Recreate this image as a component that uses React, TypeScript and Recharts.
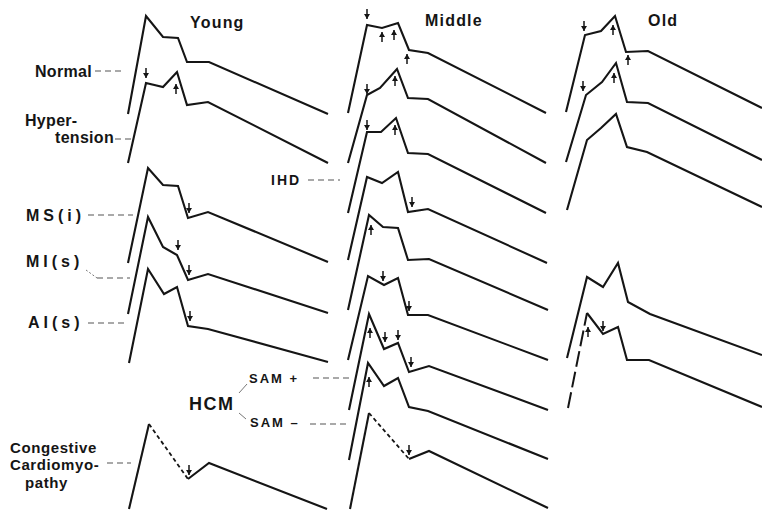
import { ComposedChart, Line, Scatter, XAxis, YAxis } from "recharts";

type P = [number, number];
const pts = (a: P[]) => a.map(([x, y]) => ({ x, y }));

// Young column
const youngNormal: P[] = [[128, 114], [146, 16], [163, 37], [178, 38], [187, 62], [209, 62], [328, 114]];
const youngHyper: P[] = [[128, 163], [146, 83], [163, 87], [177, 72], [187, 105], [208, 102], [328, 163]];
const youngMS: P[] = [[128, 263], [148, 168], [163, 185], [178, 186], [188, 218], [208, 212], [328, 262]];
const youngMI: P[] = [[128, 314], [148, 217], [163, 247], [177, 255], [188, 280], [208, 274], [328, 313]];
const youngAI: P[] = [[129, 363], [148, 269], [164, 294], [177, 287], [188, 326], [208, 329], [328, 362]];
const youngCCMRise: P[] = [[129, 509], [149, 424]];
const youngCCMDash: P[] = [[149, 424], [188, 479]];
const youngCCMTail: P[] = [[188, 479], [209, 463], [327, 509]];

// Middle column
const mid1: P[] = [[348, 113], [367, 25], [382, 28], [398, 23], [409, 50], [428, 53], [546, 113]];
const mid2: P[] = [[348, 163], [367, 95], [380, 88], [397, 69], [408, 98], [428, 99], [546, 163]];
const mid3: P[] = [[348, 213], [367, 132], [381, 132], [396, 118], [408, 153], [428, 154], [546, 213]];
const mid4: P[] = [[348, 260], [367, 177], [382, 183], [398, 172], [408, 212], [428, 209], [547, 263]];
const mid5: P[] = [[348, 310], [369, 215], [383, 227], [398, 228], [408, 260], [429, 259], [548, 310]];
const mid6: P[] = [[348, 360], [368, 276], [384, 285], [398, 278], [408, 315], [428, 315], [548, 360]];
const mid7: P[] = [[349, 410], [369, 314], [384, 349], [398, 343], [409, 372], [429, 366], [548, 410]];
const mid8: P[] = [[349, 460], [368, 363], [384, 386], [398, 378], [409, 407], [428, 411], [548, 459]];
const mid9Rise: P[] = [[350, 509], [369, 413]];
const mid9Dash: P[] = [[369, 413], [409, 459]];
const mid9Tail: P[] = [[409, 459], [429, 451], [548, 508]];

// Old column
const old1: P[] = [[566, 112], [585, 35], [601, 31], [615, 16], [626, 52], [648, 51], [762, 108]];
const old2: P[] = [[566, 162], [586, 95], [602, 82], [616, 63], [627, 102], [648, 103], [762, 160]];
const old3: P[] = [[567, 210], [587, 140], [601, 128], [616, 114], [627, 147], [647, 152], [762, 207]];
const old4: P[] = [[567, 358], [587, 277], [603, 287], [618, 263], [628, 302], [650, 314], [762, 355]];
const old5Rise: P[] = [[568, 408], [587, 313]];
const old5: P[] = [[587, 313], [603, 334], [618, 327], [627, 360], [649, 360], [762, 407]];

const solidTraces = [
    youngNormal, youngHyper, youngMS, youngMI, youngAI, youngCCMRise, youngCCMTail,
    mid1, mid2, mid3, mid4, mid5, mid6, mid7, mid8, mid9Rise, mid9Tail,
    old1, old2, old3, old4, old5,
];
const dottedTraces = [youngCCMDash, mid9Dash];

// arrows: x, y, direction (1 = down, -1 = up)
const arrows = [
    { x: 146, y: 73, d: 1 }, { x: 176, y: 89, d: -1 },
    { x: 189, y: 208, d: 1 }, { x: 178, y: 245, d: 1 }, { x: 189, y: 270, d: 1 },
    { x: 190, y: 316, d: 1 }, { x: 189, y: 470, d: 1 },
    { x: 367, y: 14, d: 1 }, { x: 382, y: 37, d: -1 }, { x: 394, y: 35, d: -1 }, { x: 407, y: 59, d: -1 },
    { x: 367, y: 89, d: 1 }, { x: 395, y: 81, d: -1 },
    { x: 367, y: 125, d: 1 }, { x: 395, y: 130, d: -1 },
    { x: 412, y: 202, d: 1 }, { x: 371, y: 230, d: -1 },
    { x: 383, y: 276, d: 1 }, { x: 409, y: 306, d: 1 },
    { x: 370, y: 333, d: -1 }, { x: 385, y: 337, d: 1 }, { x: 398, y: 335, d: 1 }, { x: 411, y: 362, d: 1 },
    { x: 369, y: 382, d: -1 }, { x: 409, y: 450, d: 1 },
    { x: 584, y: 26, d: 1 }, { x: 613, y: 30, d: -1 }, { x: 628, y: 60, d: -1 },
    { x: 583, y: 86, d: 1 }, { x: 614, y: 78, d: -1 },
    { x: 588, y: 332, d: -1 }, { x: 603, y: 326, d: 1 },
];

// label leaders
const leaders: P[][] = [
    [[95, 71], [121, 71]],
    [[115, 139], [131, 139]],
    [[88, 215], [133, 215]],
    [[97, 278], [130, 278]],
    [[88, 323], [128, 323]],
    [[308, 180], [340, 180]],
    [[107, 463], [131, 463]],
    [[313, 378], [353, 378]],
    [[310, 424], [349, 424]],
];
const connectors: P[][] = [
    [[86, 270], [97, 278]],
    [[239, 393], [247, 384]],
    [[239, 413], [246, 419]],
];

const labels = [
    { text: "Young", x: 190, y: 28, kind: "head" },
    { text: "Middle", x: 425, y: 26, kind: "head" },
    { text: "Old", x: 648, y: 26, kind: "head" },
    { text: "Normal", x: 35, y: 77, kind: "row" },
    { text: "Hyper-", x: 25, y: 126, kind: "row" },
    { text: "tension", x: 55, y: 143, kind: "row" },
    { text: "MS(i)", x: 26, y: 221, kind: "wide" },
    { text: "MI(s)", x: 26, y: 267, kind: "wide" },
    { text: "AI(s)", x: 28, y: 328, kind: "wide" },
    { text: "IHD", x: 271, y: 185, kind: "mid" },
    { text: "HCM", x: 189, y: 410, kind: "big" },
    { text: "SAM +", x: 249, y: 383, kind: "small" },
    { text: "SAM \u2013", x: 250, y: 427, kind: "small" },
    { text: "Congestive", x: 10, y: 453, kind: "stack" },
    { text: "Cardiomyo-", x: 10, y: 470, kind: "stack" },
    { text: "pathy", x: 25, y: 488, kind: "stack" },
];

const labelStyle: Record<string, { size: number; spacing: number }> = {
    head: { size: 16, spacing: 1.2 },
    row: { size: 16, spacing: 0.3 },
    stack: { size: 15, spacing: 0.6 },
    wide: { size: 16, spacing: 4 },
    mid: { size: 14, spacing: 2 },
    big: { size: 18, spacing: 1.5 },
    small: { size: 13, spacing: 2 },
};

const INK = "#151515";

const ArrowShape = (props: any) => {
    const { cx, cy, payload } = props;
    const d = payload.d;
    const tip = cy + 5 * d;
    return (
        <g>
            <line x1={cx} y1={cy - 5 * d} x2={cx} y2={tip} stroke={INK} strokeWidth={1.5} />
            <path d={`M${cx - 3},${tip - 5 * d} L${cx},${tip} L${cx + 3},${tip - 5 * d} Z`} fill={INK} />
        </g>
    );
};

const LabelShape = (props: any) => {
    const { cx, cy, payload } = props;
    const s = labelStyle[payload.kind];
    return (
        <text x={cx} y={cy} fontSize={s.size} letterSpacing={s.spacing} fontWeight="bold"
            fontFamily="'Liberation Sans', Arial, sans-serif" fill={INK}>
            {payload.text}
        </text>
    );
};

export default function App() {
    return (
        <div style={{ position: "absolute", left: 0, top: 0, background: "#fff" }}>
            <ComposedChart width={762} height={510} margin={{ top: 0, right: 0, bottom: 0, left: 0 }}>
                <XAxis dataKey="x" type="number" domain={[0, 762]} hide />
                <YAxis dataKey="y" type="number" domain={[0, 510]} reversed hide />
                {leaders.map((l, i) => (
                    <Line key={`ld-${i}`} data={pts(l)} dataKey="y" type="linear" stroke="#555"
                        strokeWidth={1.2} strokeDasharray="6 4" dot={false} activeDot={false}
                        isAnimationActive={false} />
                ))}
                {connectors.map((l, i) => (
                    <Line key={`cn-${i}`} data={pts(l)} dataKey="y" type="linear" stroke="#777"
                        strokeWidth={1} strokeDasharray={i === 0 ? "2 2" : undefined} dot={false}
                        activeDot={false} isAnimationActive={false} />
                ))}
                {solidTraces.map((t, i) => (
                    <Line key={`tr-${i}`} data={pts(t)} dataKey="y" type="linear" stroke={INK}
                        strokeWidth={2.1} strokeLinejoin="miter" dot={false} activeDot={false}
                        isAnimationActive={false} />
                ))}
                {dottedTraces.map((t, i) => (
                    <Line key={`dt-${i}`} data={pts(t)} dataKey="y" type="linear" stroke={INK}
                        strokeWidth={1.8} strokeDasharray="4 3" dot={false} activeDot={false}
                        isAnimationActive={false} />
                ))}
                <Line data={pts(old5Rise)} dataKey="y" type="linear" stroke={INK} strokeWidth={2}
                    strokeDasharray="16 5" dot={false} activeDot={false} isAnimationActive={false} />
                <Scatter data={arrows} dataKey="y" shape={ArrowShape} isAnimationActive={false} />
                <Scatter data={labels} dataKey="y" shape={LabelShape} isAnimationActive={false} />
            </ComposedChart>
        </div>
    );
}
